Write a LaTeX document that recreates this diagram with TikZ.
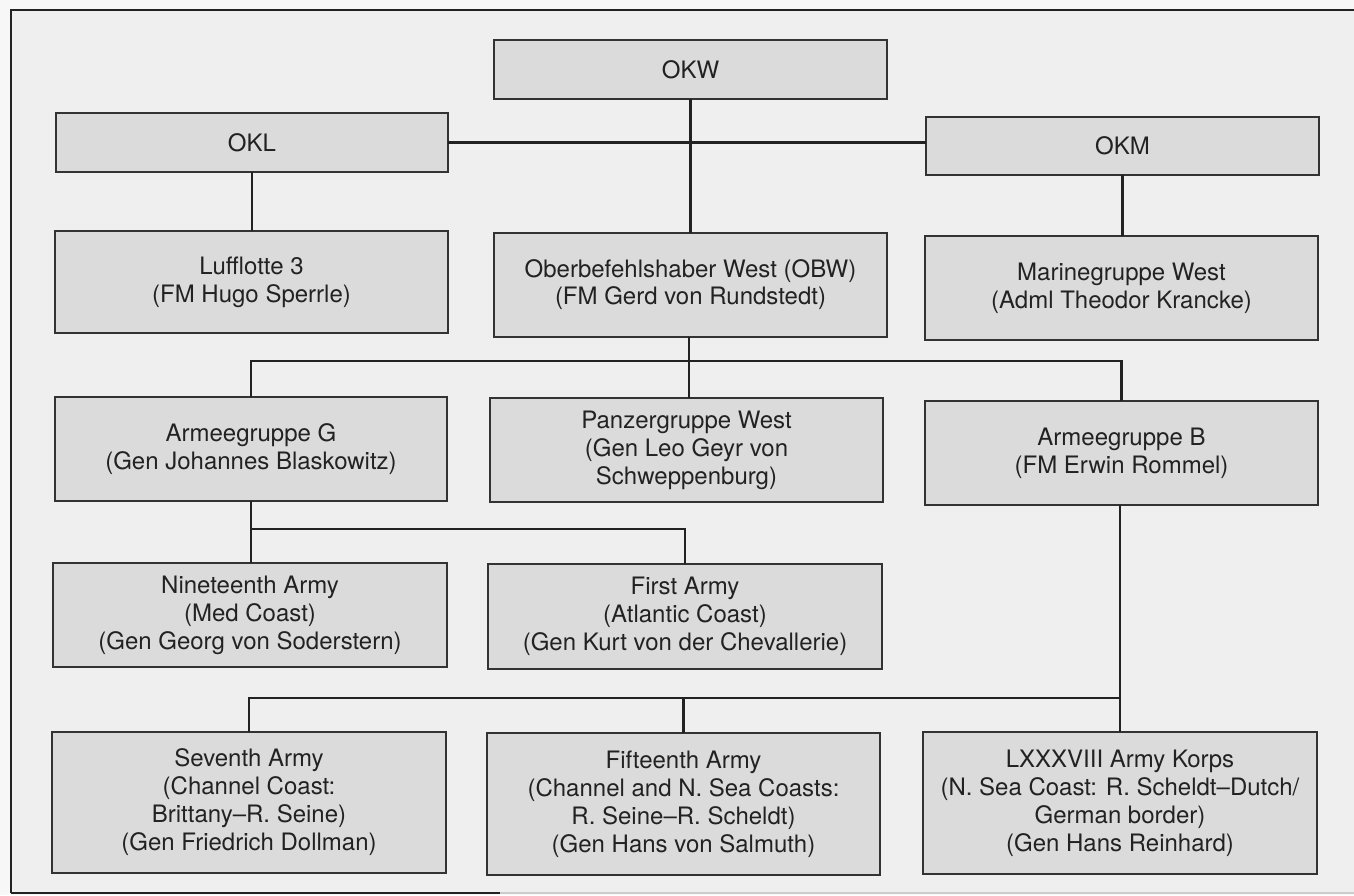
\documentclass[tikz,border=0pt]{standalone}
\usepackage{fontspec}
\setmainfont{TeX Gyre Heros}
\definecolor{bgcol}{HTML}{EFEFEF}
\definecolor{boxfill}{HTML}{DBDBDB}
\definecolor{boxline}{HTML}{333333}
\definecolor{linecol}{HTML}{222222}
\definecolor{textcol}{HTML}{222222}
\begin{document}
\begin{tikzpicture}[x=1pt,y=-1pt,
  box/.style={draw=boxline, fill=boxfill, line width=1.6pt, inner sep=0pt, outer sep=0pt,
    align=center, text=textcol, font=\fontsize{24pt}{28pt}\selectfont},
  link/.style={draw=linecol, line width=2.2pt},
  frameline/.style={draw=linecol, line width=2.4pt}]
\useasboundingbox (0,0) rectangle (1354,895);
\fill[white!97!black] (0,0) rectangle (1354,895);
\fill[bgcol] (11,10) rectangle (1354,893);
\draw[frameline] (11,893) -- (11,10) -- (1354,10);
\draw[frameline] (11,893) -- (500,893);
\draw[draw=black!20, line width=2pt] (500,893) -- (1354,893);

% row 1-2
\node[box, minimum width=393pt, minimum height=59pt] (okw) at (690.5,69.5) {OKW};
\node[box, minimum width=392pt, minimum height=59pt] (okl) at (252,142.5) {OKL};
\node[box, minimum width=393pt, minimum height=58pt] (okm) at (1122.5,146) {OKM};
% row 3
\node[box, minimum width=393pt, minimum height=102pt] (luft) at (251.5,282) {Lufflotte 3\\(FM Hugo Sperrle)};
\node[box, minimum width=393pt, minimum height=104pt, font=\fontsize{24pt}{27pt}\selectfont] (obw) at (690.5,285) {Oberbefehlshaber West (OBW)\\(FM Gerd von Rundstedt)};
\node[box, minimum width=393pt, minimum height=104pt] (marine) at (1121.5,288) {Marinegruppe West\\(Adml Theodor Krancke)};
% row 4
\node[box, minimum width=392pt, minimum height=104pt] (agg) at (251,449) {Armeegruppe G\\(Gen Johannes Blaskowitz)};
\node[box, minimum width=393pt, minimum height=104pt] (pzw) at (686.5,450) {Panzergruppe West\\(Gen Leo Geyr von\\Schweppenburg)};
\node[box, minimum width=393pt, minimum height=104pt] (agb) at (1121.5,453) {Armeegruppe B\\(FM Erwin Rommel)};
% row 5
\node[box, minimum width=394pt, minimum height=104pt] (nine) at (250,615) {Nineteenth Army\\(Med Coast)\\(Gen Georg von Soderstern)};
\node[box, minimum width=394pt, minimum height=105pt] (first) at (685,616.5) {First Army\\(Atlantic Coast)\\(Gen Kurt von der Chevallerie)};
% row 6
\node[box, minimum width=394pt, minimum height=141pt] (seventh) at (249,802.5) {Seventh Army\\(Channel Coast:\\Brittany--R. Seine)\\(Gen Friedrich Dollman)};
\node[box, minimum width=393pt, minimum height=142pt] (fifteenth) at (683.5,804) {Fifteenth Army\\(Channel and N. Sea Coasts:\\R. Seine--R. Scheldt)\\(Gen Hans von Salmuth)};
\node[box, minimum width=394pt, minimum height=142pt] (korps) at (1120,803) {LXXXVIII Army Korps\\(N. Sea Coast: R. Scheldt--Dutch/\\German border)\\(Gen Hans Reinhard)};

% connectors
\draw[link] (okl.east) -- (okl.east -| okm.west);
\draw[link] (okw.south) -- (okw.south |- obw.north);
\draw[link] (okl.south) -- (okl.south |- luft.north);
\draw[link] (okm.south) -- (okm.south |- marine.north);

\coordinate (busA) at (689,361);
\draw[link] (obw.south -| busA) -- (busA);
\draw[link] (agg.north) -- (agg.north |- busA) -- (agb.north |- busA) -- (agb.north);
\draw[link] (pzw.north -| busA) -- (busA);

\coordinate (busB) at (251,529);
\draw[link] (agg.south) -- (agg.south |- nine.north);
\draw[link] (busB) -- (first.north |- busB) -- (first.north);

\coordinate (busC) at (1120,698);
\draw[link] (agb.south -| busC) -- (korps.north -| busC);
\draw[link] (seventh.north) -- (seventh.north |- busC) -- (busC);
\draw[link] (fifteenth.north) -- (fifteenth.north |- busC);
\end{tikzpicture}
\end{document}
